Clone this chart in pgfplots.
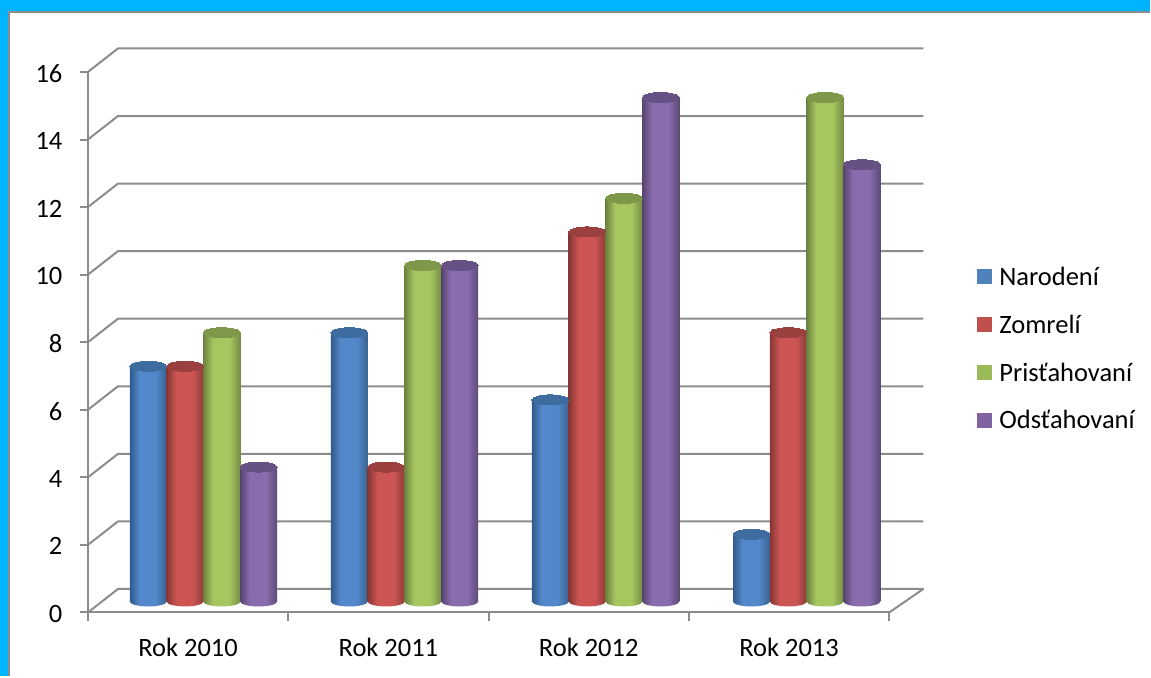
\documentclass[border=0pt]{standalone}
\usepackage{fontspec}
\setmainfont{Carlito}
\usepackage{pgfplots}
\pgfplotsset{compat=1.18}
\usetikzlibrary{shapes.geometric}

\definecolor{frameblue}{HTML}{00B4FF}
\definecolor{wallgray}{HTML}{8C8C8C}
\definecolor{legblue}{HTML}{4F81BD}
\definecolor{legred}{HTML}{C0504D}
\definecolor{leggreen}{HTML}{9BBB59}
\definecolor{legpurple}{HTML}{8064A2}

% cylinder side shadings: dark edge, body, dark edge
\definecolor{blueE}{HTML}{2F5A8A}\definecolor{blueM}{HTML}{5388CB}\definecolor{blueD}{HTML}{38638F}\definecolor{blueT}{HTML}{3F6C9F}
\definecolor{redE}{HTML}{843634}\definecolor{redM}{HTML}{CC5553}\definecolor{redD}{HTML}{8E3C3A}\definecolor{redT}{HTML}{9A403E}
\definecolor{greenE}{HTML}{6C823E}\definecolor{greenM}{HTML}{A6C760}\definecolor{greenD}{HTML}{748C43}\definecolor{greenT}{HTML}{7E9849}
\definecolor{purpleE}{HTML}{574470}\definecolor{purpleM}{HTML}{896CAE}\definecolor{purpleD}{HTML}{5E4A79}\definecolor{purpleT}{HTML}{675184}
\pgfdeclarehorizontalshading{cylblue}{100bp}{color(0bp)=(blueE); color(25bp)=(blueE); color(38bp)=(blueM); color(60bp)=(blueM); color(75bp)=(blueD); color(100bp)=(blueD)}
\pgfdeclarehorizontalshading{cylred}{100bp}{color(0bp)=(redE); color(25bp)=(redE); color(38bp)=(redM); color(60bp)=(redM); color(75bp)=(redD); color(100bp)=(redD)}
\pgfdeclarehorizontalshading{cylgreen}{100bp}{color(0bp)=(greenE); color(25bp)=(greenE); color(38bp)=(greenM); color(60bp)=(greenM); color(75bp)=(greenD); color(100bp)=(greenD)}
\pgfdeclarehorizontalshading{cylpurple}{100bp}{color(0bp)=(purpleE); color(25bp)=(purpleE); color(38bp)=(purpleM); color(60bp)=(purpleM); color(75bp)=(purpleD); color(100bp)=(purpleD)}

% bottom ellipse, body, top ellipse of one bar
% #1 x, #2 value, #3 colour stem
\newcommand{\cyl}[3]{
  \addplot[only marks, mark=none, nodes near coords={\phantom{.}},
    every node near coord/.style={ellipse, inner sep=0pt, minimum width=37pt, minimum height=10pt, anchor=center, shade, shading=cyl#3, draw=none}]
    coordinates {(#1,0)};
  \addplot[ybar, bar shift=0pt, draw=none, shade, shading=cyl#3]
    coordinates {(#1,#2)};
  \addplot[only marks, mark=*, mark size=1pt, mark options={xscale=18.5, yscale=5, fill=#3T, draw=#3T, line width=0pt}]
    coordinates {(#1,#2)};
}

\begin{document}
\begin{tikzpicture}
\fill[frameblue] (0pt,0pt) rectangle (1151pt,677pt);
\fill[white] (8pt,0pt) rectangle (1151pt,666pt);
\draw[wallgray, line width=2pt] (9pt,0pt) -- (9pt,665pt) -- (1151pt,665pt);

% front axes, back wall lines, legend
\begin{axis}[
  at={(88pt,64pt)}, anchor=south west,
  scale only axis, width=802pt, height=541pt,
  xmin=0, xmax=4, ymin=0, ymax=16,
  clip=false,
  axis x line*=bottom, axis y line*=left,
  axis line style={wallgray, line width=2pt, -},
  every tick/.style={wallgray, line width=2pt},
  tick align=outside,
  xtick={0.5,1.5,2.5,3.5},
  xticklabels={Rok 2010,Rok 2011,Rok 2012,Rok 2013},
  minor xtick={0,1,2,3,4},
  major x tick style={draw=none},
  minor tick length=8.5pt,
  ytick={0,2,...,16},
  major tick length=8pt,
  tick label style={font=\fontsize{26.5}{30}\selectfont},
  /pgf/number format/assume math mode=true,
  xticklabel style={yshift=-14pt},
  yticklabel style={xshift=-14pt, yshift=-1.5pt},
  unbounded coords=jump,
  legend style={at={(1.106,0.647)}, anchor=north west, draw=none, fill=none,
    font=\fontsize{26.5}{30}\selectfont, row sep=24pt,
    nodes={inner sep=2pt}, /tikz/column 1/.style={column sep=5pt}},
  legend cell align=left,
  legend image code/.code={\fill[draw=none,#1] (0pt,-7.5pt) rectangle (15pt,7.5pt);},
]
\addplot[forget plot, wallgray, line width=2pt, line join=round] coordinates {
  (0,0) (0.15,0.695) (4.17,0.695) (4,0) (nan,nan)
  (0,2) (0.15,2.695) (4.17,2.695) (nan,nan)
  (0,4) (0.15,4.695) (4.17,4.695) (nan,nan)
  (0,6) (0.15,6.695) (4.17,6.695) (nan,nan)
  (0,8) (0.15,8.695) (4.17,8.695) (nan,nan)
  (0,10) (0.15,10.695) (4.17,10.695) (nan,nan)
  (0,12) (0.15,12.695) (4.17,12.695) (nan,nan)
  (0,14) (0.15,14.695) (4.17,14.695) (nan,nan)
  (0,16) (0.15,16.695) (4.17,16.695)
};
\addlegendimage{fill=legblue}\addlegendentry{Narodení}
\addlegendimage{fill=legred}\addlegendentry{Zomrelí}
\addlegendimage{fill=leggreen}\addlegendentry{Prisťahovaní}
\addlegendimage{fill=legpurple}\addlegendentry{Odsťahovaní}
\end{axis}

% cylinders, set half a depth step into the floor
\begin{axis}[
  at={(103pt,75pt)}, anchor=south west,
  scale only axis, width=805pt, height=538pt,
  xmin=0, xmax=4, ymin=0, ymax=16,
  clip=false, hide axis,
  bar width=37pt,
]
% Rok 2010
\cyl{0.2255}{7}{blue}
\cyl{0.4085}{7}{red}
\cyl{0.5915}{8}{green}
\cyl{0.7745}{4}{purple}
% Rok 2011
\cyl{1.2255}{8}{blue}
\cyl{1.4085}{4}{red}
\cyl{1.5915}{10}{green}
\cyl{1.7745}{10}{purple}
% Rok 2012
\cyl{2.2255}{6}{blue}
\cyl{2.4085}{11}{red}
\cyl{2.5915}{12}{green}
\cyl{2.7745}{15}{purple}
% Rok 2013
\cyl{3.2255}{2}{blue}
\cyl{3.4085}{8}{red}
\cyl{3.5915}{15}{green}
\cyl{3.7745}{13}{purple}
\end{axis}
\end{tikzpicture}
\end{document}
